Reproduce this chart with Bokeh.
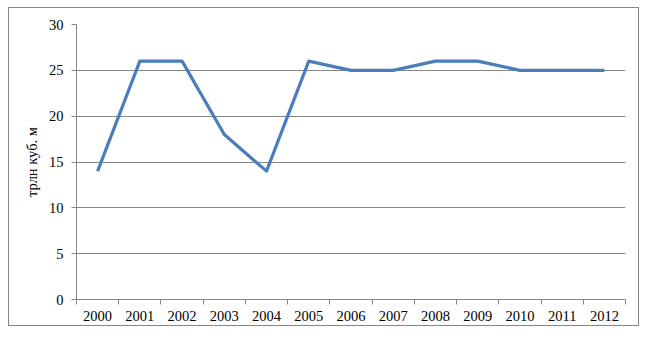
from bokeh.plotting import figure
from bokeh.models import Range1d, FixedTicker
from bokeh.embed import file_html
from bokeh.resources import INLINE

years = ["2000", "2001", "2002", "2003", "2004", "2005", "2006",
         "2007", "2008", "2009", "2010", "2011", "2012"]
values = [14, 26, 26, 18, 14, 26, 25, 25, 26, 26, 25, 25, 25]
y_ticks = [0, 5, 10, 15, 20, 25, 30]
y_label = "трлн куб. м"

n = len(years)
xs = list(range(n))
FONT = "Liberation Serif"
GRAY = "#868686"

p = figure(width=631, height=319, output_backend="svg", toolbar_location=None,
           x_range=Range1d(-0.5, n - 0.5), y_range=Range1d(0, 30),
           min_border_left=67, min_border_right=15, min_border_top=16, min_border_bottom=28,
           styles={"border": "1px solid " + GRAY, "margin-left": "8px", "margin-top": "7px"})
p.outline_line_color = None
p.background_fill_color = "white"
p.border_fill_color = "white"

p.line(xs, values, line_color="#4a7ebb", line_width=3.2, line_join="round")

# x axis
p.xaxis.ticker = FixedTicker(ticks=xs, minor_ticks=[i - 0.5 for i in range(n + 1)])
p.xaxis.major_label_overrides = {i: y for i, y in enumerate(years)}
p.xaxis.major_tick_out = 0
p.xaxis.major_tick_in = 0
p.xaxis.minor_tick_out = 5
p.xaxis.minor_tick_in = 0
p.xaxis.minor_tick_line_color = GRAY
p.xaxis.axis_line_color = GRAY
p.xaxis.major_label_standoff = 6
p.xaxis.major_label_text_font = FONT
p.xaxis.major_label_text_font_size = "14.5px"
p.xaxis.major_label_text_color = "black"
p.xgrid.grid_line_color = None

# y axis
p.yaxis.ticker = FixedTicker(ticks=y_ticks)
p.yaxis.major_tick_out = 5
p.yaxis.major_tick_in = 0
p.yaxis.minor_tick_line_color = None
p.yaxis.major_tick_line_color = GRAY
p.yaxis.axis_line_color = GRAY
p.yaxis.major_label_standoff = 8
p.yaxis.major_label_text_font = FONT
p.yaxis.major_label_text_font_size = "14.5px"
p.yaxis.major_label_text_color = "black"
p.yaxis.axis_label = y_label
p.yaxis.axis_label_text_font = FONT
p.yaxis.axis_label_text_font_size = "14.5px"
p.yaxis.axis_label_text_font_style = "normal"
p.yaxis.axis_label_text_color = "black"
p.yaxis.axis_label_standoff = 6
p.ygrid.grid_line_color = GRAY
p.ygrid.grid_line_width = 1

open("out.html", "w").write(file_html(p, INLINE))
